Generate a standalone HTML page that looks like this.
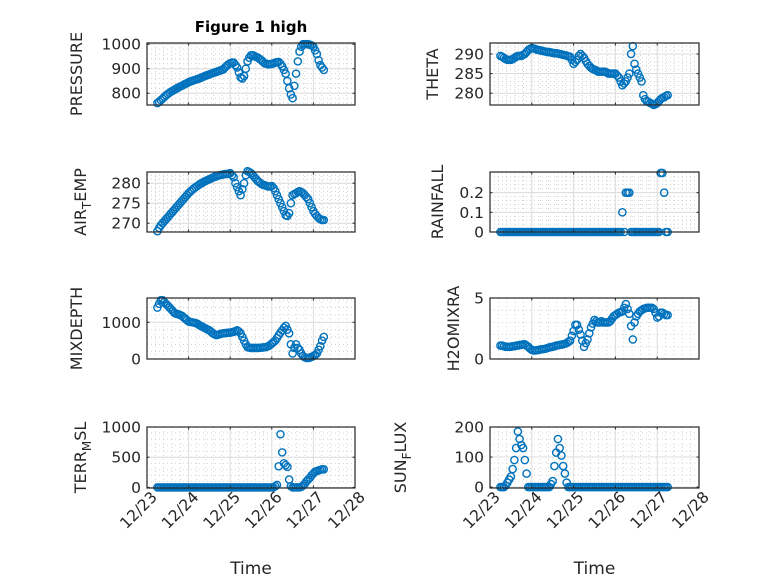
<!DOCTYPE html>
<html><head><meta charset="utf-8"><style>
body{margin:0;background:#fff}
svg{display:block;font-family:"DejaVu Sans","Liberation Sans",sans-serif}
</style></head><body>
<svg id="fig" width="778" height="583" viewBox="0 0 778 583" xmlns="http://www.w3.org/2000/svg">
<rect width="778" height="583" fill="#fff"/>
<text x="251" y="32" text-anchor="middle" font-weight="bold" font-size="15" fill="#000">Figure 1 high</text>
</svg>
<script>
const times=[];for(let k=0;k<97;k++)times.push(23.25+k/24);
const xTicks=[23,24,25,26,27,28];
const xTickLabels=["12/23","12/24","12/25","12/26","12/27","12/28"];
const pressure=[760,765,772,778,785,791,797,802,807,811,815,819,823,827,830,834,838,841,845,848,850,853,855,858,860,863,866,869,872,874,877,880,882,885,887,890,892,895,897,905,912,918,922,925,925,915,905,885,865,860,870,900,930,945,955,955,952,948,945,940,935,928,922,920,918,919,920,922,925,927,928,920,910,895,880,850,820,795,780,830,880,930,970,990,1000,1000,1000,1000,998,995,990,975,960,935,915,905,895];
const airTemp=[268,268.8,269.5,270,270.5,271,271.5,272,272.5,273,273.5,274,274.5,275,275.5,276,276.5,277,277.5,277.9,278.3,278.7,279,279.3,279.6,279.9,280.1,280.4,280.6,280.8,281,281.2,281.4,281.6,281.7,281.9,282,282.1,282.2,282.3,282.3,282.4,282.5,282,281.5,280,279,278,277,278.5,280,282,283,282.8,282.5,282,281.5,281,280.5,280.2,279.8,279.6,279.5,279.3,279.2,279.2,279.3,278.8,278,277,276,275,274,273,272,271.8,272.5,275,277,277.3,277.5,277.8,278,277.8,277.5,277,276.5,276,275,274,273,272.3,271.8,271.3,271,270.8,270.8];
const mixDepth=[1400,1500,1600,1600,1550,1500,1450,1400,1350,1300,1250,1230,1220,1200,1180,1140,1100,1060,1020,1010,1000,990,980,960,930,900,880,850,830,800,780,740,700,670,650,660,680,690,700,705,710,715,720,730,740,760,780,750,700,600,500,400,320,310,300,300,300,300,300,305,310,315,320,330,350,380,420,460,500,570,650,720,780,850,900,800,700,400,150,300,400,300,250,150,80,50,30,30,40,60,80,110,150,250,350,500,600];
const terrMsl=[0,0,0,0,0,0,0,0,0,0,0,0,0,0,0,0,0,0,0,0,0,0,0,0,0,0,0,0,0,0,0,0,0,0,0,0,0,0,0,0,0,0,0,0,0,0,0,0,0,0,0,0,0,0,0,0,0,0,0,0,0,0,0,0,0,0,0,0,20,40,350,880,580,400,370,340,130,20,0,0,0,0,0,10,30,60,100,130,160,200,230,260,270,280,290,300,300];
const theta=[289.5,289.3,289,288.7,288.5,288.5,288.5,288.7,289,289.3,289.5,289.5,289.5,289.8,290,290.5,291,291.3,291.5,291.4,291.3,291.1,291,290.9,290.8,290.7,290.6,290.5,290.5,290.4,290.3,290.2,290.2,290.1,290,289.9,289.8,289.7,289.6,289.4,289.3,288.5,287.5,288,288.5,289.5,290,289.5,289,288.2,287.5,287,286.5,286.2,286,285.8,285.5,285.5,285.5,285.5,285.5,285.3,285,285,285,285,285,284.5,284,283,282,282.5,283,284,285,290,292,287.5,286,285,284,283,279.5,278.5,278,277.8,277.5,277.3,277,277.2,277.5,278,278.5,278.8,279,279.3,279.5];
const rainfall=[0,0,0,0,0,0,0,0,0,0,0,0,0,0,0,0,0,0,0,0,0,0,0,0,0,0,0,0,0,0,0,0,0,0,0,0,0,0,0,0,0,0,0,0,0,0,0,0,0,0,0,0,0,0,0,0,0,0,0,0,0,0,0,0,0,0,0,0,0,0,0.1,0,0.2,0.2,0.2,0,0,0,0,0,0,0,0,0,0,0,0,0,0,0,0,0,0.3,0.3,0.2,0,0];
const h2o=[1.1,1.1,1.05,1.0,1.0,1.0,1.0,1.05,1.05,1.1,1.1,1.15,1.15,1.2,1.2,1.1,1.0,0.85,0.75,0.7,0.7,0.72,0.75,0.78,0.8,0.82,0.85,0.9,0.95,0.98,1.0,1.05,1.1,1.12,1.15,1.18,1.2,1.25,1.3,1.4,1.5,1.9,2.3,2.8,2.8,2.4,2.0,1.5,1.0,1.3,1.6,2.1,2.6,2.9,3.2,3.1,3.0,3.0,3.1,3.0,3.0,3.0,3.0,3.1,3.3,3.5,3.6,3.7,3.8,3.85,3.9,4.2,4.5,4.1,3.7,2.7,1.6,3.0,3.5,3.7,3.9,4.0,4.1,4.15,4.2,4.2,4.2,4.2,4.1,3.8,3.4,3.5,3.8,3.8,3.7,3.6,3.6];
const sunFlux=[0,0,0,5,15,25,35,60,90,130,185,160,140,130,90,45,0,0,0,0,0,0,0,0,0,0,0,0,0,10,20,70,115,160,130,105,70,45,15,0,0,0,0,0,0,0,0,0,0,0,0,0,0,0,0,0,0,0,0,0,0,0,0,0,0,0,0,0,0,0,0,0,0,0,0,0,0,0,0,0,0,0,0,0,0,0,0,0,0,0,0,0,0,0,0,0,0];

const NS="http://www.w3.org/2000/svg";
const svg=document.getElementById('fig');
function mk(tag,attrs,parent){const e=document.createElementNS(NS,tag);for(const k in attrs)e.setAttribute(k,attrs[k]);(parent||svg).appendChild(e);return e;}

const panels=[
 {name:"pressure",x0:147,x1:355,y0:43,y1:105,ymin:752,ymax:1005,yt:[800,900,1000],yl:["800","900","1000"],minor:20,data:pressure,lab:["PRESSURE"],lx:76,xl:false},
 {name:"air-temp",x0:147,x1:355,y0:172,y1:232,ymin:267.8,ymax:282.8,yt:[270,275,280],yl:["270","275","280"],minor:1,data:airTemp,lab:["AIR","T","EMP"],lx:80,xl:false},
 {name:"mixdepth",x0:147,x1:355,y0:298,y1:359,ymin:0,ymax:1660,yt:[0,1000],yl:["0","1000"],minor:200,data:mixDepth,lab:["MIXDEPTH"],lx:76,xl:false},
 {name:"terr-msl",x0:147,x1:355,y0:427,y1:488,ymin:-10,ymax:1000,yt:[0,500,1000],yl:["0","500","1000"],minor:100,data:terrMsl,lab:["TERR","M","SL"],lx:80,xl:true},
 {name:"theta",x0:490,x1:699,y0:43,y1:105,ymin:277,ymax:292.8,yt:[280,285,290],yl:["280","285","290"],minor:1,data:theta,lab:["THETA"],lx:432,xl:false},
 {name:"rainfall",x0:490,x1:699,y0:172,y1:232,ymin:0,ymax:0.305,yt:[0,0.1,0.2],yl:["0","0.1","0.2"],minor:0.02,data:rainfall,lab:["RAINFALL"],lx:437,xl:false},
 {name:"h2omixra",x0:490,x1:699,y0:298,y1:359,ymin:0,ymax:5,yt:[0,5],yl:["0","5"],minor:1,data:h2o,lab:["H2OMIXRA"],lx:453,xl:false},
 {name:"sun-flux",x0:490,x1:699,y0:427,y1:488,ymin:-3,ymax:200,yt:[0,100,200],yl:["0","100","200"],minor:20,data:sunFlux,lab:["SUN","F","LUX"],lx:400,xl:true}
];

panels.forEach(p=>{
 const g=mk('g',{});
 
 
 const X=t=>p.x0+(t-23)/(28-23)*(p.x1-p.x0);
 const Y=v=>p.y1-(v-p.ymin)/(p.ymax-p.ymin)*(p.y1-p.y0);
 mk('rect',{x:p.x0,y:p.y0,width:p.x1-p.x0,height:p.y1-p.y0,fill:'#fff'},g);
 for(let d=23;d<28;d++)for(let m=1;m<5;m++){const x=X(d+m*0.2);mk('line',{x1:x,x2:x,y1:p.y0,y2:p.y1,stroke:'#c8c8c8','stroke-dasharray':'1,3','stroke-width':0.8},g);}
 const s=Math.ceil(p.ymin/p.minor);
 for(let i=s;i*p.minor<=p.ymax;i++){const v=i*p.minor;const y=Y(v);mk('line',{x1:p.x0,x2:p.x1,y1:y,y2:y,stroke:'#c8c8c8','stroke-dasharray':'1,3','stroke-width':0.8},g);}
 xTicks.forEach(t=>{const x=X(t);mk('line',{x1:x,x2:x,y1:p.y0,y2:p.y1,stroke:'#dcdcdc','stroke-width':1},g);});
 p.yt.forEach(v=>{const y=Y(v);mk('line',{x1:p.x0,x2:p.x1,y1:y,y2:y,stroke:'#dcdcdc','stroke-width':1},g);});
 p.data.forEach((v,i)=>{const c=mk('circle',{cx:X(times[i]),cy:Y(v),r:3.6,fill:'none',stroke:'#0072BD','stroke-width':1.4},g);
  
  });
 mk('rect',{x:p.x0,y:p.y0,width:p.x1-p.x0,height:p.y1-p.y0,fill:'none',stroke:'#262626','stroke-width':1.2},g);
 xTicks.forEach(t=>{const x=X(t);mk('line',{x1:x,x2:x,y1:p.y1,y2:p.y1-2.5,stroke:'#262626'},g);mk('line',{x1:x,x2:x,y1:p.y0,y2:p.y0+2.5,stroke:'#262626'},g);});
 p.yt.forEach((v,i)=>{const y=Y(v);mk('line',{x1:p.x0,x2:p.x0+2.5,y1:y,y2:y,stroke:'#262626'},g);mk('line',{x1:p.x1,x2:p.x1-2.5,y1:y,y2:y,stroke:'#262626'},g);
  const tx=mk('text',{x:p.x0-6,y:y+5.5,'text-anchor':'end','font-size':15.5,fill:'#262626'},g);tx.textContent=p.yl[i];
  
  });
 const cy=(p.y0+p.y1)/2;
 const yl=mk('text',{x:0,y:0,transform:`translate(${p.lx+6},${cy}) rotate(-90)`,'text-anchor':'middle','font-size':16,fill:'#262626'},g);
 
 
 if(p.lab.length===1){yl.textContent=p.lab[0];}
 else{const a=mk('tspan',{},yl);a.textContent=p.lab[0];const b=mk('tspan',{'font-size':12,dy:5},yl);b.textContent=p.lab[1];const c=mk('tspan',{dy:-5},yl);c.textContent=p.lab[2];}
 if(p.xl){
  xTicks.forEach((t,i)=>{const x=X(t);const tx=mk('text',{x:0,y:0,transform:`translate(${x+11},${p.y1+10}) rotate(-45)`,'text-anchor':'end','font-size':15.5,fill:'#262626'},g);tx.textContent=xTickLabels[i];
   
   });
  const xl=mk('text',{x:(p.x0+p.x1)/2,y:574,'text-anchor':'middle','font-size':17,fill:'#262626'},g);xl.textContent='Time';
  
  
 }
});
</script>
</body></html>
